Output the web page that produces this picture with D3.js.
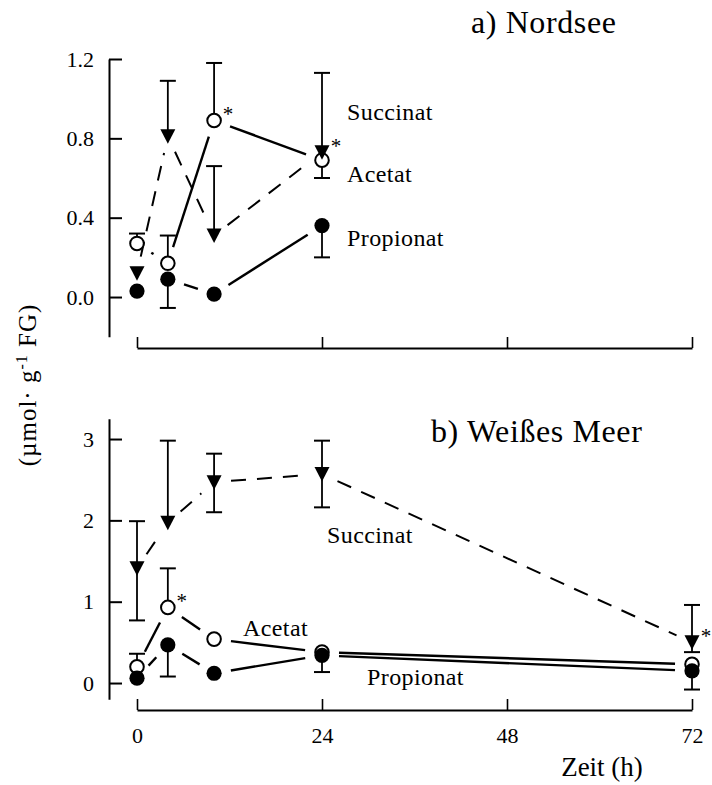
<!DOCTYPE html>
<html>
<head>
<meta charset="utf-8">
<script src="https://cdn.jsdelivr.net/npm/d3@7"></script>
<style>
  body { margin: 0; background: #fff; }
  text { font-family: "Liberation Serif", "Times New Roman", serif; fill: #000; }
</style>
</head>
<body>
<svg id="chart" width="712" height="785"></svg>
<script>
// Time axis
const timeTicks = [0, 24, 48, 72];

// a) Nordsee
const nordseeTimes = [0, 4, 10, 24];
const nordseeSuccinat   = [0.12, 0.81, 0.31, 0.73];
const nordseeSuccinatHi = [null, 1.09, 0.66, 1.13];
const nordseeSuccinatLo = [null, null, null, null];
const nordseeAcetat     = [0.27, 0.17, 0.89, 0.69];
const nordseeAcetatHi   = [0.32, 0.31, 1.18, null];
const nordseeAcetatLo   = [null, null, null, 0.60];
const nordseePropionat  = [0.03, 0.09, 0.015, 0.36];
const nordseePropionatHi = [null, null, null, null];
const nordseePropionatLo = [null, -0.055, null, 0.20];
const nordseeYTicks = [0.0, 0.4, 0.8, 1.2];

// b) Weißes Meer
const weissTimes = [0, 4, 10, 24, 72];
const weissSuccinat   = [1.41, 1.97, 2.47, 2.57, 0.50];
const weissSuccinatHi = [1.99, 2.98, 2.82, 2.98, 0.96];
const weissSuccinatLo = [0.77, null, 2.10, 2.16, 0.38];
const weissAcetat     = [0.20, 0.93, 0.54, 0.38, 0.23];
const weissAcetatHi   = [0.36, 1.41, null, null, null];
const weissAcetatLo   = [null, null, null, null, null];
const weissPropionat  = [0.06, 0.47, 0.12, 0.34, 0.15];
const weissPropionatHi = [null, null, null, null, null];
const weissPropionatLo = [null, 0.08, null, 0.135, -0.08];
const weissYTicks = [0, 1, 2, 3];

// significance marks: [series, index]
const nordseeStars = [["Acetat", 2], ["Succinat", 3]];
const weissStars   = [["Acetat", 1], ["Succinat", 4]];

const svg = d3.select("#chart");

const x = d3.scaleLinear().domain([0, 72]).range([137, 692]);

function makeSeries(times, succ, succHi, succLo, acet, acetHi, acetLo, prop, propHi, propLo) {
  return [
    { name: "Acetat",    marker: "open",   dash: null,    pts: times.map((t, i) => ({ t, v: acet[i], hi: acetHi[i], lo: acetLo[i] })) },
    { name: "Propionat", marker: "filled", dash: null,    pts: times.map((t, i) => ({ t, v: prop[i], hi: propHi[i], lo: propLo[i] })) },
    { name: "Succinat",  marker: "tri",    dash: "15,11", pts: times.map((t, i) => ({ t, v: succ[i], hi: succHi[i], lo: succLo[i] })) }
  ];
}

function drawPanel(cfg) {
  const y = d3.scaleLinear().domain(cfg.yDomain).range(cfg.yRange);
  const g = svg.append("g");

  // y axis: ticks point inward, labels left
  const yAxis = d3.axisLeft(y)
    .tickValues(cfg.yTicks)
    .tickFormat(cfg.yFormat)
    .tickSizeInner(-13)
    .tickSizeOuter(0)
    .tickPadding(15);
  const ya = g.append("g").attr("transform", "translate(109,0)").call(yAxis);
  ya.select(".domain").attr("stroke-width", 2);
  ya.selectAll(".tick line").attr("stroke-width", 2);
  ya.selectAll(".tick text").style("font-size", "22px").style("font-family", "Liberation Serif");

  // detached x axis: ticks point up
  const xAxis = d3.axisBottom(x)
    .tickValues(timeTicks)
    .tickFormat(cfg.xLabels ? d3.format("d") : () => "")
    .tickSizeInner(-11)
    .tickSizeOuter(0)
    .tickPadding(17);
  const xa = g.append("g").attr("transform", `translate(0,${cfg.xAxisY})`).call(xAxis);
  xa.select(".domain").attr("stroke-width", 2);
  xa.selectAll(".tick line").attr("stroke-width", 1.6);
  xa.selectAll(".tick text").style("font-size", "22px").style("font-family", "Liberation Serif");

  const gap = 17;
  // connecting lines, stopping short of the markers
  cfg.series.forEach(s => {
    for (let i = 0; i < s.pts.length - 1; i++) {
      const a = s.pts[i], b = s.pts[i + 1];
      const x1 = x(a.t), y1 = y(a.v), x2 = x(b.t), y2 = y(b.v);
      const len = Math.hypot(x2 - x1, y2 - y1);
      if (len <= 2 * gap) continue;
      const ux = (x2 - x1) / len, uy = (y2 - y1) / len;
      g.append("line")
        .attr("x1", x1 + ux * gap).attr("y1", y1 + uy * gap)
        .attr("x2", x2 - ux * gap).attr("y2", y2 - uy * gap)
        .attr("stroke", "#000")
        .attr("stroke-width", s.dash ? 2 : 2.4)
        .attr("stroke-dasharray", s.dash);
    }
  });

  // error bars
  const cap = 8;
  cfg.series.forEach(s => {
    s.pts.forEach(p => {
      [p.hi, p.lo].forEach(e => {
        if (e === null || e === undefined) return;
        const px = x(p.t);
        g.append("line")
          .attr("x1", px).attr("x2", px)
          .attr("y1", y(p.v)).attr("y2", y(e))
          .attr("stroke", "#000").attr("stroke-width", 1.8);
        g.append("line")
          .attr("x1", px - cap).attr("x2", px + cap)
          .attr("y1", y(e)).attr("y2", y(e))
          .attr("stroke", "#000").attr("stroke-width", 2);
      });
    });
  });

  // markers
  const tri = "M-7.5,-7L7.5,-7L0,7.5Z";
  cfg.series.forEach(s => {
    s.pts.forEach(p => {
      const px = x(p.t), py = y(p.v);
      if (s.marker === "tri") {
        g.append("path").attr("d", tri)
          .attr("transform", `translate(${px},${py})`)
          .attr("fill", "#000");
      } else {
        g.append("circle")
          .attr("cx", px).attr("cy", py)
          .attr("r", s.marker === "open" ? 6.8 : 7.6)
          .attr("fill", s.marker === "open" ? "#fff" : "#000")
          .attr("stroke", "#000")
          .attr("stroke-width", s.marker === "open" ? 2 : 0);
      }
    });
  });

  // asterisks
  cfg.stars.forEach(([name, i]) => {
    const p = cfg.series.find(s => s.name === name).pts[i];
    g.append("text")
      .attr("x", x(p.t) + 14).attr("y", y(p.v) + 1)
      .attr("text-anchor", "middle")
      .style("font-size", "21px")
      .text("*");
  });

  // series labels
  cfg.labels.forEach(l => {
    g.append("text")
      .attr("x", l.x).attr("y", l.y)
      .style("font-size", "24px")
      .style("letter-spacing", "0.4px")
      .text(l.text);
  });

  // panel title
  g.append("text")
    .attr("x", cfg.title.x).attr("y", cfg.title.y)
    .style("font-size", "32px")
    .style("letter-spacing", "0.6px")
    .text(cfg.title.text);
}

drawPanel({
  yDomain: [-0.2, 1.2], yRange: [336.7, 59],
  yTicks: nordseeYTicks, yFormat: d3.format(".1f"),
  xAxisY: 348, xLabels: false,
  series: makeSeries(nordseeTimes,
    nordseeSuccinat, nordseeSuccinatHi, nordseeSuccinatLo,
    nordseeAcetat, nordseeAcetatHi, nordseeAcetatLo,
    nordseePropionat, nordseePropionatHi, nordseePropionatLo),
  stars: nordseeStars,
  labels: [
    { text: "Succinat",  x: 347, y: 120 },
    { text: "Acetat",    x: 347, y: 182 },
    { text: "Propionat", x: 347, y: 246 }
  ],
  title: { text: "a) Nordsee", x: 471, y: 33 }
});

drawPanel({
  yDomain: [-0.2, 3.25], yRange: [699.3, 418.7],
  yTicks: weissYTicks, yFormat: d3.format("d"),
  xAxisY: 710, xLabels: true,
  series: makeSeries(weissTimes,
    weissSuccinat, weissSuccinatHi, weissSuccinatLo,
    weissAcetat, weissAcetatHi, weissAcetatLo,
    weissPropionat, weissPropionatHi, weissPropionatLo),
  stars: weissStars,
  labels: [
    { text: "Succinat",  x: 327, y: 543 },
    { text: "Acetat",    x: 243, y: 636 },
    { text: "Propionat", x: 367, y: 685 }
  ],
  title: { text: "b) Weißes Meer", x: 431, y: 442 }
});

// x axis title
svg.append("text")
  .attr("x", 602).attr("y", 776)
  .attr("text-anchor", "middle")
  .style("font-size", "27px")
  .text("Zeit (h)");

// y axis title
const yt = svg.append("text")
  .attr("transform", "translate(36,385) rotate(-90)")
  .attr("text-anchor", "middle")
  .style("font-size", "25px")
  .style("letter-spacing", "1px");
yt.append("tspan").text("(µmol· g");
yt.append("tspan").attr("dy", -9).style("font-size", "16px").text("-1");
yt.append("tspan").attr("dy", 9).text(" FG)");
</script>
</body>
</html>
